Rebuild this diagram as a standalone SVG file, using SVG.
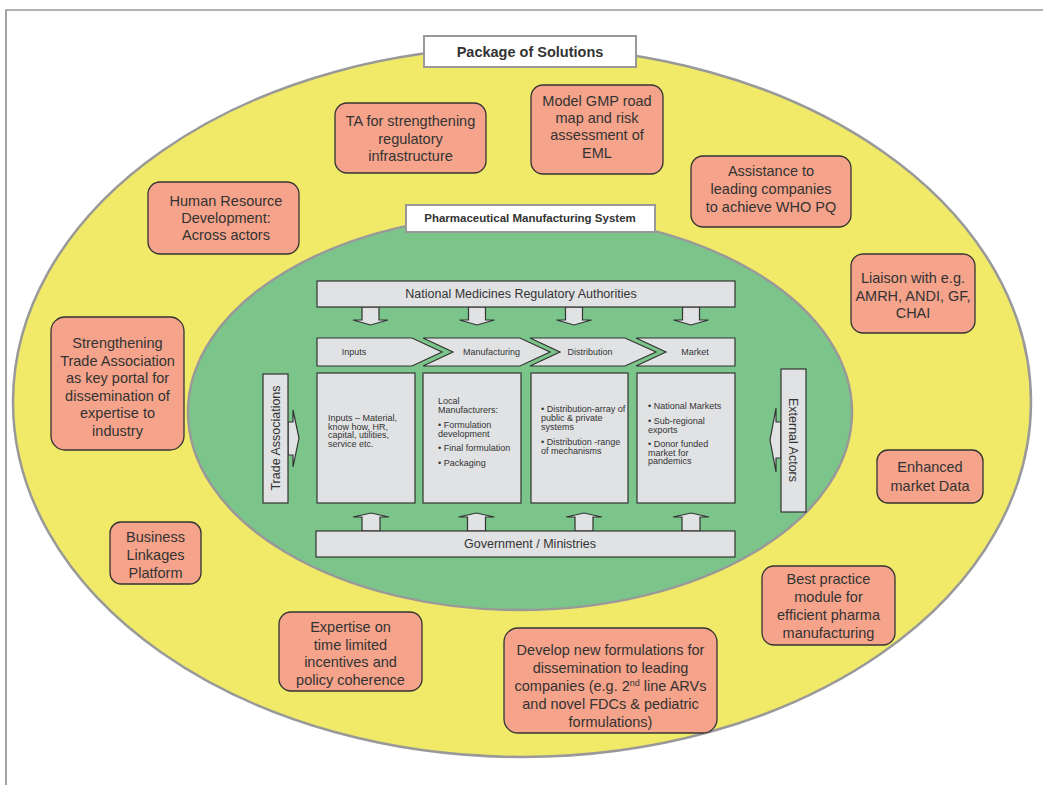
<svg xmlns="http://www.w3.org/2000/svg" width="1043" height="785" viewBox="0 0 1043 785">
<style>
.sol rect{fill:#F5A38A;stroke:#333;stroke-width:1.3}
.sol text{font-family:"Liberation Sans",Arial,sans-serif;font-size:14.5px;fill:#333;text-anchor:middle}
.gb{fill:#E1E2E4;stroke:#333;stroke-width:1.2}
.t9{font-family:"Liberation Sans",Arial,sans-serif;font-size:9px;fill:#333}
.t12{font-family:"Liberation Sans",Arial,sans-serif;font-size:12.5px;fill:#333;text-anchor:middle}
.title{font-family:"Liberation Sans",Arial,sans-serif;font-weight:bold;fill:#333;text-anchor:middle}
</style>
<rect x="0" y="0" width="1043" height="785" fill="#fff"/>
<path d="M6 785 V10 H1043" fill="none" stroke="#666" stroke-width="1.2"/>

<g id="outer">
<ellipse cx="522" cy="402" rx="509" ry="355" fill="#F1EA68" stroke="#999" stroke-width="2.5"/>
</g>
<g id="package-title">
<rect x="424" y="36" width="212" height="31" fill="#fff" stroke="#999" stroke-width="2"/>
<text class="title" x="530" y="57" font-size="14.5">Package of Solutions</text>
</g>

<g id="inner">
<ellipse cx="520" cy="412" rx="332" ry="198" fill="#7BC58A" stroke="#999" stroke-width="2.5"/>
</g>
<g id="pms-title">
<rect x="406" y="205" width="249" height="27" fill="#fff" stroke="#999" stroke-width="2"/>
<text class="title" x="530" y="222" font-size="11.5">Pharmaceutical Manufacturing System</text>
</g>

<g id="connectors">
<path class="gb" d="M362 307 V320 H353 L370.5 325 L388 320 H379 V307 Z"/>
<path class="gb" d="M468.5 307 V320 H459.5 L477 325 L494.5 320 H485.5 V307 Z"/>
<path class="gb" d="M565.5 307 V320 H556.5 L574 325 L591.5 320 H582.5 V307 Z"/>
<path class="gb" d="M682.5 307 V320 H673.5 L691 325 L708.5 320 H699.5 V307 Z"/>
<path class="gb" d="M362 531 V517 H353 L371 513 L389 517 H380 V531 Z"/>
<path class="gb" d="M467.5 531 V517 H458.5 L476.5 513 L494.5 517 H485.5 V531 Z"/>
<path class="gb" d="M575 531 V517 H566 L584 513 L602 517 H593 V531 Z"/>
<path class="gb" d="M682 531 V517 H673 L691 513 L709 517 H700 V531 Z"/>
<path class="gb" d="M288 422 H293 V410 L299 438 L293 467 V455 H288 Z"/>
<path class="gb" d="M781 422 H776 V408 L770 440 L776 472 V458 H781 Z"/>
</g>

<g id="nmra">
<rect class="gb" x="317" y="281" width="418" height="26"/>
<text class="t12" x="521" y="297.5">National Medicines Regulatory Authorities</text>
</g>
<g id="gov">
<rect class="gb" x="316" y="531" width="419" height="26"/>
<text class="t12" x="530" y="548">Government / Ministries</text>
</g>

<g id="chev-inputs">
<path class="gb" d="M317 338 H412 L442 352 L412 366 H317 Z"/>
<text class="t9" x="354" y="355" text-anchor="middle">Inputs</text>
</g>
<g id="chev-manufacturing">
<path class="gb" d="M423 338 H520 L550 352 L520 366 H423 L453 352 Z"/>
<text class="t9" x="491.5" y="355" text-anchor="middle">Manufacturing</text>
</g>
<g id="chev-distribution">
<path class="gb" d="M530 338 H625 L656 352 L625 366 H530 L560 352 Z"/>
<text class="t9" x="590" y="355" text-anchor="middle">Distribution</text>
</g>
<g id="chev-market">
<path class="gb" d="M636 338 H735 V366 H636 L666 352 Z"/>
<text class="t9" x="695" y="355" text-anchor="middle">Market</text>
</g>

<g id="box-inputs">
<rect class="gb" x="317" y="373" width="98" height="130"/>
<text class="t9" x="328" y="421">Inputs – Material,<tspan x="328" y="429.5">know how, HR,</tspan><tspan x="328" y="438">capital, utilities,</tspan><tspan x="328" y="446.5">service etc.</tspan></text>
</g>
<g id="box-manufacturing">
<rect class="gb" x="423" y="373" width="98" height="130"/>
<text class="t9" x="438" y="404">Local<tspan x="438" y="413">Manufacturers:</tspan><tspan x="438" y="428">• Formulation</tspan><tspan x="438" y="436.5">development</tspan><tspan x="438" y="451">• Final formulation</tspan><tspan x="438" y="466">• Packaging</tspan></text>
</g>
<g id="box-distribution">
<rect class="gb" x="531" y="373" width="97" height="130"/>
<text class="t9" x="541" y="412">• Distribution-array of<tspan x="541" y="421">public &amp; private</tspan><tspan x="541" y="429.5">systems</tspan><tspan x="541" y="445">• Distribution -range</tspan><tspan x="541" y="454">of mechanisms</tspan></text>
</g>
<g id="box-market">
<rect class="gb" x="637" y="373" width="98" height="130"/>
<text class="t9" x="648" y="409">• National Markets<tspan x="648" y="424">• Sub-regional</tspan><tspan x="648" y="432.5">exports</tspan><tspan x="648" y="447">• Donor funded</tspan><tspan x="648" y="455.5">market for</tspan><tspan x="648" y="464">pandemics</tspan></text>
</g>

<g id="trade-assoc">
<rect class="gb" x="263" y="374" width="25" height="129"/>
<text class="t12" font-size="12" transform="translate(280,438) rotate(-90)">Trade Associations</text>
</g>
<g id="external-actors">
<rect class="gb" x="781" y="369" width="25" height="143"/>
<text class="t12" font-size="12" transform="translate(789,440) rotate(90)">External Actors</text>
</g>

<g id="s-ta" class="sol">
<rect x="335" y="103" width="151" height="70" rx="12"/>
<text x="410.5" y="126">TA for strengthening<tspan x="410.5" y="144">regulatory</tspan><tspan x="410.5" y="161">infrastructure</tspan></text>
</g>
<g id="s-gmp" class="sol">
<rect x="531" y="85" width="132" height="89" rx="12"/>
<text x="597" y="106">Model GMP road<tspan x="597" y="123">map and risk</tspan><tspan x="597" y="140">assessment of</tspan><tspan x="597" y="158">EML</tspan></text>
</g>
<g id="s-hr" class="sol">
<rect x="148" y="182" width="151" height="72" rx="12"/>
<text x="226" y="206">Human Resource<tspan x="226" y="223">Development:</tspan><tspan x="226" y="240">Across actors</tspan></text>
</g>
<g id="s-who" class="sol">
<rect x="691" y="156" width="160" height="71" rx="12"/>
<text x="771" y="176">Assistance to<tspan x="771" y="194">leading companies</tspan><tspan x="771" y="212">to achieve WHO PQ</tspan></text>
</g>
<g id="s-liaison" class="sol">
<rect x="851" y="254" width="124" height="79" rx="12"/>
<text x="913" y="283">Liaison with e.g.<tspan x="913" y="301">AMRH, ANDI, GF,</tspan><tspan x="913" y="318">CHAI</tspan></text>
</g>
<g id="s-trade" class="sol">
<rect x="51" y="317" width="133" height="133" rx="14"/>
<text x="117.5" y="348">Strengthening<tspan x="117.5" y="366">Trade Association</tspan><tspan x="117.5" y="383">as key portal for</tspan><tspan x="117.5" y="401">dissemination of</tspan><tspan x="117.5" y="418">expertise to</tspan><tspan x="117.5" y="436">industry</tspan></text>
</g>
<g id="s-market" class="sol">
<rect x="877" y="450" width="106" height="53" rx="11"/>
<text x="930" y="472">Enhanced<tspan x="930" y="491">market Data</tspan></text>
</g>
<g id="s-business" class="sol">
<rect x="110" y="522" width="91" height="62" rx="11"/>
<text x="155.5" y="542">Business<tspan x="155.5" y="560">Linkages</tspan><tspan x="155.5" y="578">Platform</tspan></text>
</g>
<g id="s-best" class="sol">
<rect x="762" y="566" width="133" height="79" rx="12"/>
<text x="828.5" y="584">Best practice<tspan x="828.5" y="602">module for</tspan><tspan x="828.5" y="620">efficient pharma</tspan><tspan x="828.5" y="638">manufacturing</tspan></text>
</g>
<g id="s-expertise" class="sol">
<rect x="279" y="612" width="143" height="79" rx="12"/>
<text x="350.5" y="632">Expertise on<tspan x="350.5" y="650">time limited</tspan><tspan x="350.5" y="667">incentives and</tspan><tspan x="350.5" y="685">policy coherence</tspan></text>
</g>
<g id="s-develop" class="sol">
<rect x="504" y="628" width="213" height="105" rx="14"/>
<text x="610.5" y="655">Develop new formulations for<tspan x="610.5" y="673">dissemination to leading</tspan><tspan x="610.5" y="691">companies (e.g. 2<tspan font-size="9" dy="-5">nd</tspan><tspan dy="5"> line ARVs</tspan></tspan><tspan x="610.5" y="709">and novel FDCs &amp; pediatric</tspan><tspan x="610.5" y="727">formulations)</tspan></text>
</g>
</svg>
